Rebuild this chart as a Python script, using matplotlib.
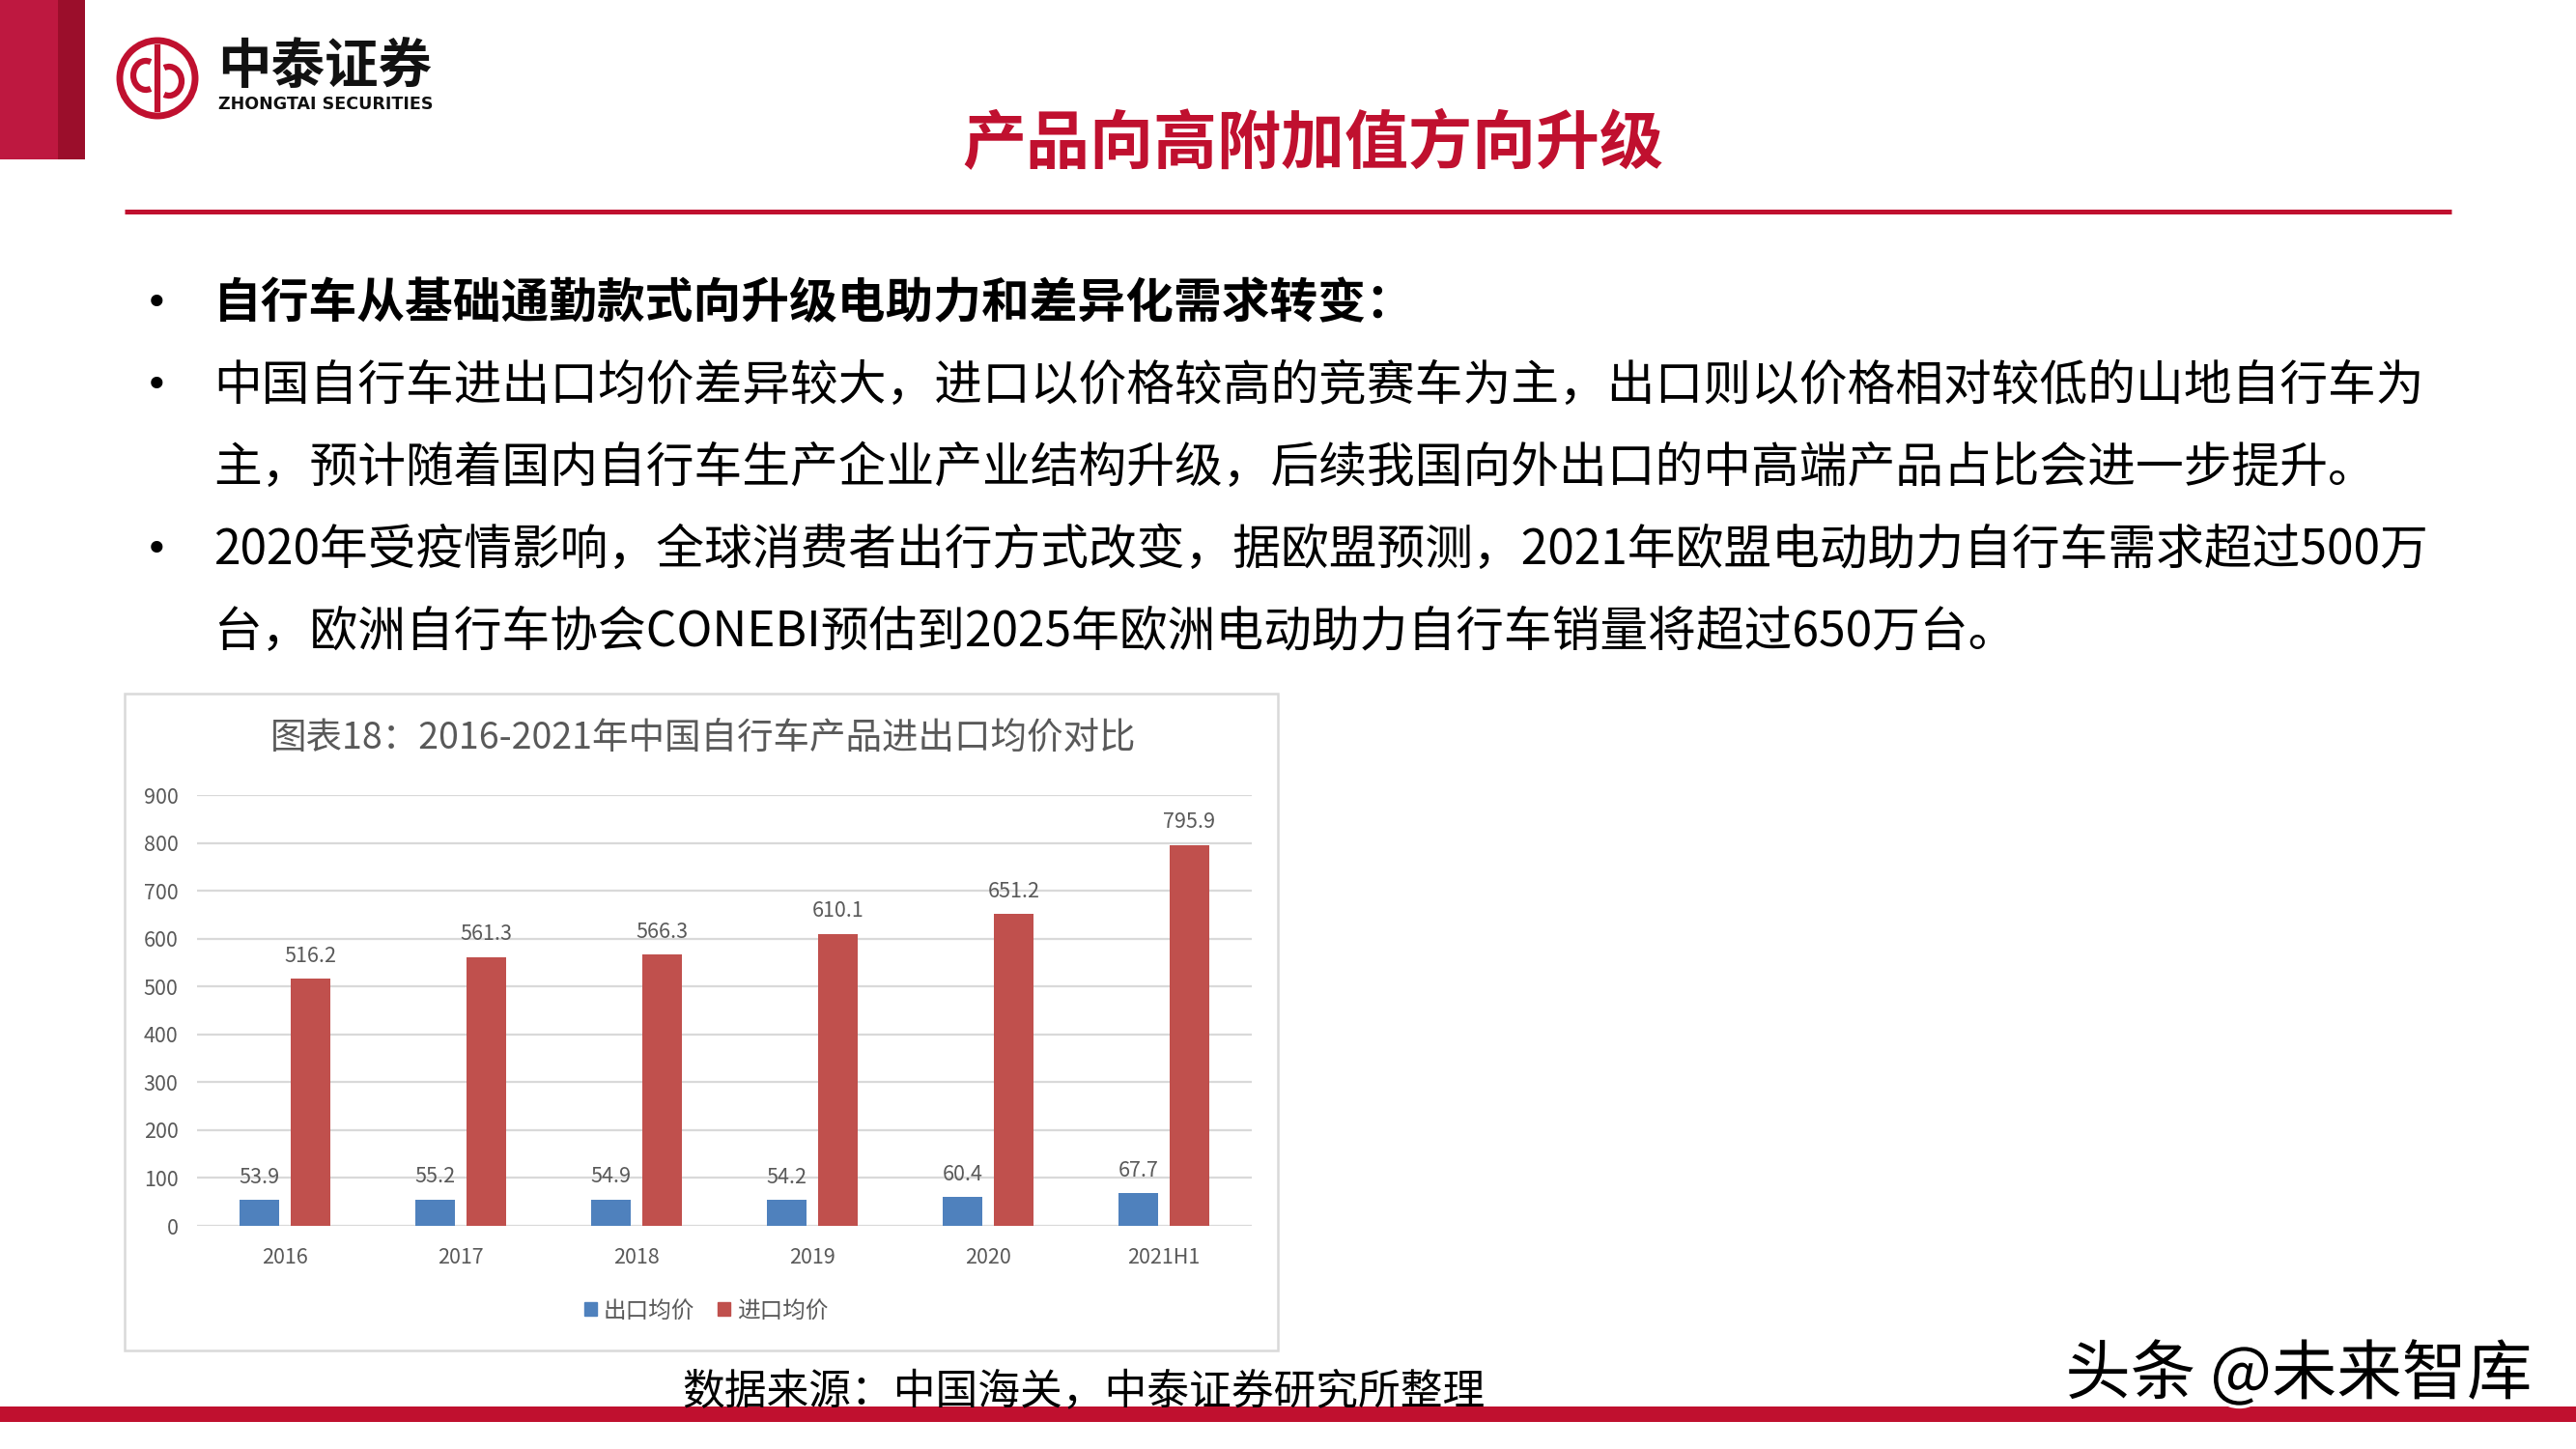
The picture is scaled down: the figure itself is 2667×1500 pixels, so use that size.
import numpy as np
import matplotlib.pyplot as plt
from matplotlib.patches import Rectangle, Circle, Arc, Patch
import matplotlib.patheffects as pe

plt.rcParams['font.family'] = ['Noto Sans CJK SC', 'DejaVu Sans']

# chart data
categories = ['2016', '2017', '2018', '2019', '2020', '2021H1']
export_price = [53.9, 55.2, 54.9, 54.2, 60.4, 67.7]
import_price = [516.2, 561.3, 566.3, 610.1, 651.2, 795.9]
series_names = ['出口均价', '进口均价']
yticks = [0, 100, 200, 300, 400, 500, 600, 700, 800, 900]

chart_title = '图表18：2016-2021年中国自行车产品进出口均价对比'
page_title = '产品向高附加值方向升级'
bullets = [
    '自行车从基础通勤款式向升级电助力和差异化需求转变：',
    '中国自行车进出口均价差异较大，进口以价格较高的竞赛车为主，出口则以价格相对较低的山地自行车为',
    '主，预计随着国内自行车生产企业产业结构升级，后续我国向外出口的中高端产品占比会进一步提升。',
    '2020年受疫情影响，全球消费者出行方式改变，据欧盟预测，2021年欧盟电动助力自行车需求超过500万',
    '台，欧洲自行车协会CONEBI预估到2025年欧洲电动助力自行车销量将超过650万台。',
]
has_dot = [True, True, False, True, False]
source = '数据来源：中国海关，中泰证券研究所整理'

W, H = 2667, 1500
red = '#C0102F'
blue_c = '#4F81BD'
red_c = '#C0504D'
gray_t = '#595959'

fig = plt.figure(figsize=(W / 100, H / 100), dpi=100)

# background layer in pixel coords (y down)
bg = fig.add_axes([0, 0, 1, 1])
bg.set_xlim(0, W)
bg.set_ylim(H, 0)
bg.axis('off')

# left red block
bg.add_patch(Rectangle((0, 0), 60, 165, color='#BE1840', lw=0))
bg.add_patch(Rectangle((60, 0), 28, 165, color='#9B0E2B', lw=0))

# logo
bg.add_patch(Circle((163, 81), 39, fill=False, ec=red, lw=5))
bg.plot([163, 163], [46, 116], color=red, lw=4.5, solid_capstyle='butt')
bg.add_patch(Arc((151, 78), 26, 30, theta1=70, theta2=290, ec=red, lw=4.5))
bg.add_patch(Arc((175, 84), 26, 30, theta1=-110, theta2=110, ec=red, lw=4.5))
bg.text(225, 70, '中泰证券', fontsize=40, fontweight='bold', color='#111111',
        ha='left', va='center')
bg.text(226, 108, 'ZHONGTAI SECURITIES', fontsize=12.6, fontweight='bold',
        family='DejaVu Sans', color='#111111', ha='left', va='center')

# page title and rule
bg.text(1359, 150, page_title, fontsize=47.5, fontweight='bold', color=red,
        ha='center', va='center')
bg.plot([129, 2538], [219, 219], color=red, lw=3.6, solid_capstyle='butt')

# bullet text
ys = [315, 400, 485, 570, 655]
for i, (txt, dot, y) in enumerate(zip(bullets, has_dot, ys)):
    if dot:
        bg.text(162, y, '•', fontsize=30, family='DejaVu Sans', color='black',
                ha='center', va='center')
    bg.text(221, y, txt, fontsize=35.8, color='black', ha='left', va='center',
            fontweight='bold' if i == 0 else 'normal')

# chart frame
bg.add_patch(Rectangle((129, 718), 1194, 680, facecolor='white',
                       edgecolor='#D9D9D9', lw=1.8))
bg.text(728, 764, chart_title, fontsize=27, color=gray_t, ha='center', va='center')

# bottom band, source, watermark
bg.add_patch(Rectangle((0, 1456), W, 16, color=red, lw=0))
bg.text(1122, 1440, source, fontsize=31.5, color='black', ha='center', va='center', zorder=5)
bg.text(2380, 1424, '头条 @未来智库', fontsize=48.5, color='black', ha='center', va='center',
        zorder=6, path_effects=[pe.withStroke(linewidth=5, foreground='white')])

# bar chart
ax = fig.add_axes([204 / W, 1 - 1269 / H, 1092 / W, 446 / H], zorder=2)
ax.set_facecolor('none')
x = np.arange(len(categories))
bw = 0.225
b1 = ax.bar(x - 0.145, export_price, bw, color=blue_c, label=series_names[0], zorder=3)
b2 = ax.bar(x + 0.145, import_price, bw, color=red_c, label=series_names[1], zorder=3)
ax.bar_label(b1, fmt='%.1f', padding=9, fontsize=15.5, color=gray_t)
ax.bar_label(b2, fmt='%.1f', padding=9, fontsize=15.5, color=gray_t)

ax.set_xlim(-0.5, len(categories) - 0.5)
ax.set_ylim(0, 900)
ax.set_yticks(yticks)
ax.set_xticks(x)
ax.set_xticklabels(categories)
ax.grid(axis='y', color='#D9D9D9', lw=1.6, zorder=0)
ax.set_axisbelow(True)
for s in ax.spines.values():
    s.set_visible(False)
ax.tick_params(axis='both', length=0, labelsize=15.5, labelcolor=gray_t)
ax.tick_params(axis='y', pad=14)
ax.tick_params(axis='x', pad=16)

fig.legend(handles=[Patch(color=blue_c, label=series_names[0]),
                    Patch(color=red_c, label=series_names[1])],
           loc='center', bbox_to_anchor=(731 / W, 1 - 1357 / H), ncol=2,
           frameon=False, fontsize=17, labelcolor=gray_t,
           handlelength=0.55, handleheight=0.55, handletextpad=0.3, columnspacing=1.0)

fig.savefig('out.png', dpi=100)
